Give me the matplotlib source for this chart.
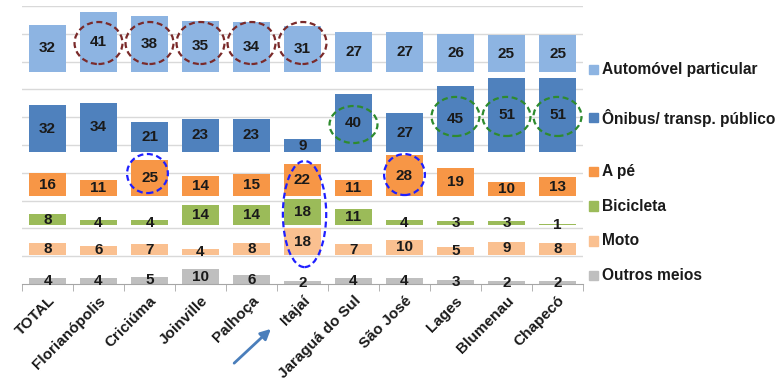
import matplotlib
matplotlib.use("Agg")
import matplotlib.pyplot as plt
from matplotlib.patches import Ellipse, Rectangle
import numpy as np

plt.rcParams['font.family'] = ['Liberation Sans', 'DejaVu Sans']

categories = ["TOTAL", "Florianópolis", "Criciúma", "Joinville", "Palhoça", "Itajaí",
              "Jaraguá do Sul", "São José", "Lages", "Blumenau", "Chapecó"]

automovel = [32, 41, 38, 35, 34, 31, 27, 27, 26, 25, 25]
onibus    = [32, 34, 21, 23, 23, 9, 40, 27, 45, 51, 51]
a_pe      = [16, 11, 25, 14, 15, 22, 11, 28, 19, 10, 13]
bicicleta = [8, 4, 4, 14, 14, 18, 11, 4, 3, 3, 1]
moto      = [8, 6, 7, 4, 8, 18, 7, 10, 5, 9, 8]
outros    = [4, 4, 5, 10, 6, 2, 4, 4, 3, 2, 2]

series_names = ["Automóvel particular", "Ônibus/ transp. público", "A pé",
                "Bicicleta", "Moto", "Outros meios"]
series_vals = [automovel, onibus, a_pe, bicicleta, moto, outros]
colors = ["#8DB4E2", "#4F81BD", "#F79646", "#9BBB59", "#FAC090", "#BFBFBF"]
band_base = [145, 90, 60, 40, 20, 0]          # layout offsets of each band
legend_y = [146.9, 113.5, 76.6, 53.3, 29.4, 5.5]

fig = plt.figure(figsize=(7.78, 3.83), dpi=100)
ax = fig.add_axes([22/778, 1-284/383, (583-22)/778, (284-6)/383])

x = np.arange(len(categories))
ax.set_xlim(-0.5, len(categories)-0.5)
ax.set_ylim(0, 190)

for yg in np.arange(19, 191, 19):
    ax.axhline(yg, color="#D9D9D9", lw=1.0, zorder=0)

for name, vals, c, base in zip(series_names, series_vals, colors, band_base):
    ax.bar(x, vals, bottom=base, width=0.72, color=c, linewidth=0, zorder=2)
    for xi, v in zip(x, vals):
        ax.text(xi, base + v/2, str(v), ha="center", va="center",
                fontsize=11, fontweight="bold", color="#1a1a1a", zorder=4)

# legend
for name, c, ly in zip(series_names, colors, legend_y):
    ax.add_patch(Rectangle((10.62, ly-3.1), 0.17, 6.2, color=c, clip_on=False,
                           transform=ax.transData))
    ax.text(10.88, ly, name, ha="left", va="center", fontsize=11.2,
            fontweight="bold", color="#1a1a1a", clip_on=False)

# axes styling
for s in ["left", "right", "top"]:
    ax.spines[s].set_visible(False)
ax.spines["bottom"].set_color("#A6A6A6")
ax.set_yticks([])
ax.set_xticks(x)
ax.set_xticklabels(categories, rotation=45, ha="right", va="top",
                   rotation_mode="anchor", fontsize=11, fontweight="bold",
                   color="#1a1a1a")
ax.tick_params(axis="x", length=0, pad=7)
ax.set_xticks(np.arange(-0.5, len(categories)), minor=True)
ax.tick_params(axis="x", which="minor", length=5, color="#A6A6A6", direction="out")

# highlight ellipses
brown = "#7A2A2A"
green = "#2E8B2E"
blue = "#1F1FFF"
dash = (0, (2.7, 1.6))
for i in [1, 2, 3, 4, 5]:
    ax.add_patch(Ellipse((i, 164.7), 0.94, 28.7, fill=False, ec=brown, lw=1.6,
                         ls=dash, zorder=5))
ax.add_patch(Ellipse((6, 109), 0.94, 25.3, fill=False, ec=green, lw=1.6,
                     ls=dash, zorder=5))
for i in [8, 9, 10]:
    ax.add_patch(Ellipse((i, 114.5), 0.94, 26.7, fill=False, ec=green, lw=1.6,
                         ls=dash, zorder=5))
ax.add_patch(Ellipse((1.96, 75.5), 0.80, 26.7, fill=False, ec=blue, lw=1.6,
                     ls=dash, zorder=5))
ax.add_patch(Ellipse((7, 74.8), 0.80, 28, fill=False, ec=blue, lw=1.6,
                     ls=dash, zorder=5))
ax.add_patch(Ellipse((5.04, 47.8), 0.85, 72.5, fill=False, ec=blue, lw=1.6,
                     ls=dash, zorder=5))

# arrow towards Itajaí
ax.annotate("", xy=(4.42, -29.4), xytext=(3.62, -55.4),
            arrowprops=dict(arrowstyle="-|>", color="#4A7EBB", lw=2,
                            mutation_scale=15),
            annotation_clip=False)

fig.savefig("out.png", dpi=100)
